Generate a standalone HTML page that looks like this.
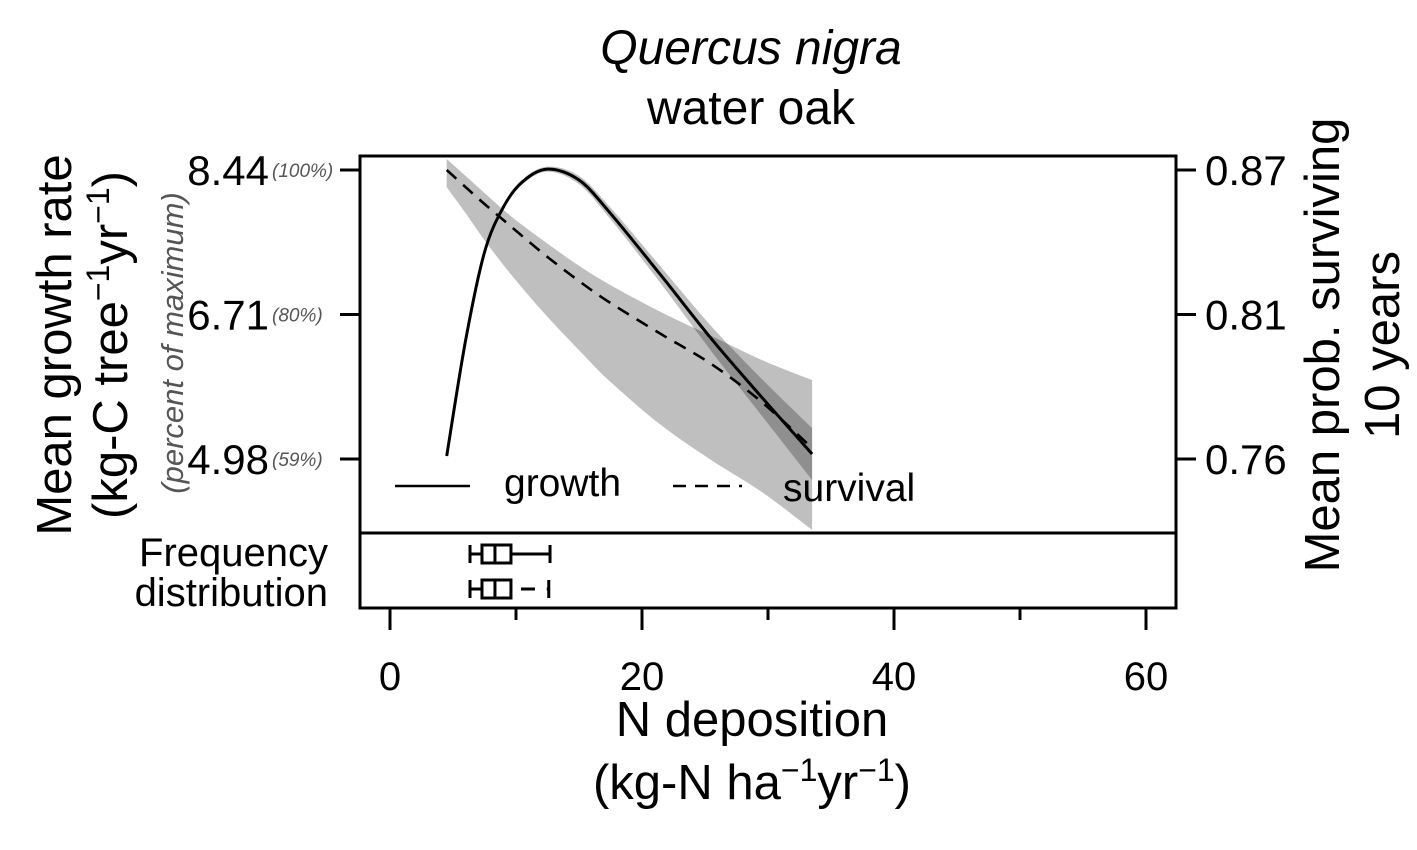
<!DOCTYPE html>
<html><head><meta charset="utf-8"><style>
body{margin:0;background:#fff;}
svg{display:block;font-family:"Liberation Sans",Arial,sans-serif;}
</style></head><body>
<div style="position:relative;width:1417px;height:850px;">
<svg id="chart" width="1417" height="850" viewBox="0 0 1417 850" style="position:absolute;left:0;top:0;">
<g id="bands"></g><g id="lines"></g><g id="axes"></g>
<text x="751" y="64" font-size="48" font-style="italic" text-anchor="middle">Quercus nigra</text>
<text x="751" y="124" font-size="48" text-anchor="middle">water oak</text>
<line x1="395" x2="470" y1="486" y2="486" stroke="#000" stroke-width="2.5"/>
<text x="504" y="496" font-size="39">growth</text>
<line x1="673" x2="742" y1="486" y2="486" stroke="#000" stroke-width="2.5" stroke-dasharray="13 9"/>
<text x="783" y="501" font-size="39">survival</text>
<text x="328" y="566" font-size="40" text-anchor="end">Frequency</text>
<text x="328" y="606" font-size="40" text-anchor="end">distribution</text>
<text x="752" y="736" font-size="49" text-anchor="middle">N deposition</text>
<text x="752" y="799" font-size="49" text-anchor="middle">(kg-N ha<tspan dy="-18" font-size="32">−1</tspan><tspan dy="18">yr</tspan><tspan dy="-18" font-size="32">−1</tspan><tspan dy="18">)</tspan></text>
<g transform="translate(71,345) rotate(-90)"><text x="0" y="0" font-size="49" text-anchor="middle">Mean growth rate</text></g>
<g transform="translate(127,345) rotate(-90)"><text x="0" y="0" font-size="49" text-anchor="middle">(kg-C tree<tspan dy="-18" font-size="32">−1</tspan><tspan dy="18">yr</tspan><tspan dy="-18" font-size="32">−1</tspan><tspan dy="18">)</tspan></text></g>
<g transform="translate(183,343) rotate(-90)"><text x="0" y="0" font-size="31" font-style="italic" fill="#555" text-anchor="middle">(percent of maximum)</text></g>
<g transform="translate(1339,345) rotate(-90)"><text x="0" y="0" font-size="49" text-anchor="middle">Mean prob. surviving</text></g>
<g transform="translate(1399,345) rotate(-90)"><text x="0" y="0" font-size="49" text-anchor="middle">10 years</text></g>
</svg></div>
<script>
const xVals=[4.5,6,7.5,9,10.5,12.5,15,17.5,21.5,25.5,29.5,33.5];
const growth=[5.016,6.40,7.455,7.996,8.296,8.45,8.32,7.92,7.18,6.42,5.72,5.04];
const growthHalf=[0.03,0.03,0.03,0.03,0.03,0.03,0.05,0.07,0.1,0.15,0.22,0.31];
const survival=[0.868,0.8616,0.8553,0.8493,0.8433,0.8355,0.8265,0.8183,0.8067,0.7955,0.7813,0.7641];
const survUpper=[0.8721,0.8658,0.8594,0.8531,0.8474,0.8405,0.8322,0.8250,0.8149,0.8060,0.7970,0.7895];
const survLower=[0.8616,0.8519,0.8418,0.8325,0.8239,0.8131,0.8007,0.7888,0.7727,0.7596,0.7477,0.7335];
const xTicks=[0,20,40,60];
const xMinor=[10,30,50];
const growthTicks=[8.44,6.71,4.98];
const growthTickLabels=["8.44","6.71","4.98"];
const pctLabels=["(100%)","(80%)","(59%)"];
const survTicks=[0.868,0.814,0.76];
const survTickLabels=["0.87","0.81","0.76"];
const box1=[6.35,7.3,8.33,9.6,12.7];
const box2=[6.35,7.3,8.33,9.6,12.6];

const NS="http://www.w3.org/2000/svg";
const X=v=>390+12.6*v;
const YG=v=>170+(8.44-v)*(289/3.46);
const YS=v=>170+(0.868-v)*(289/0.108);
function mk(tag,attrs,parent,text){const e=document.createElementNS(NS,tag);for(const k in attrs)e.setAttribute(k,attrs[k]);if(text!==undefined)e.textContent=text;document.getElementById(parent).appendChild(e);return e;}
function smooth(pts,move){
 let d=(move?"M":"L")+pts[0][0]+","+pts[0][1];
 for(let i=0;i<pts.length-1;i++){
  const p0=pts[Math.max(0,i-1)],p1=pts[i],p2=pts[i+1],p3=pts[Math.min(pts.length-1,i+2)];
  const c1=[p1[0]+(p2[0]-p0[0])/6,p1[1]+(p2[1]-p0[1])/6];
  const c2=[p2[0]-(p3[0]-p1[0])/6,p2[1]-(p3[1]-p1[1])/6];
  d+="C"+c1[0]+","+c1[1]+" "+c2[0]+","+c2[1]+" "+p2[0]+","+p2[1];
 }
 return d;
}
function bandPath(up,lo){
 const u=xVals.map((x,i)=>[X(x),up(i)]);
 const l=xVals.map((x,i)=>[X(x),lo(i)]).reverse();
 return smooth(u,true)+smooth(l,false)+"Z";
}
function linePath(f){return smooth(xVals.map((x,i)=>[X(x),f(i)]),true);}

let e;
e=mk("path",{d:bandPath(i=>YS(survUpper[i]),i=>YS(survLower[i])),fill:"#000","fill-opacity":"0.25"},"bands");

e=mk("path",{d:bandPath(i=>YG(growth[i]+growthHalf[i]),i=>YG(growth[i]-growthHalf[i])),fill:"#000","fill-opacity":"0.25"},"bands");

e=mk("path",{d:linePath(i=>YG(growth[i])),fill:"none",stroke:"#000","stroke-width":"3","stroke-linejoin":"round"},"lines");

e=mk("path",{d:linePath(i=>YS(survival[i])),fill:"none",stroke:"#000","stroke-width":"2.6","stroke-dasharray":"13 9"},"lines");


e=mk("rect",{x:360,y:156,width:816,height:377,fill:"none",stroke:"#000","stroke-width":"3"},"axes");

e=mk("rect",{x:360,y:533,width:816,height:75,fill:"none",stroke:"#000","stroke-width":"3"},"axes");


xTicks.forEach(t=>{
 e=mk("line",{x1:X(t),x2:X(t),y1:608,y2:630,stroke:"#000","stroke-width":"3"},"axes");
 
 e=mk("text",{x:X(t),y:690,"font-size":"40","text-anchor":"middle"},"axes",String(t));
 
});
xMinor.forEach(t=>{
 e=mk("line",{x1:X(t),x2:X(t),y1:608,y2:620,stroke:"#000","stroke-width":"3"},"axes");
 
});
growthTicks.forEach((t,i)=>{
 e=mk("line",{x1:340,x2:360,y1:YG(t),y2:YG(t),stroke:"#000","stroke-width":"3"},"axes");
 
 e=mk("text",{x:269,y:YG(t)+15,"font-size":"42","text-anchor":"end"},"axes",growthTickLabels[i]);
 
 e=mk("text",{x:272,y:YG(t)+7,"font-size":"19","font-style":"italic",fill:"#555"},"axes",pctLabels[i]);
 
});
survTicks.forEach((t,i)=>{
 e=mk("line",{x1:1176,x2:1196,y1:YS(t),y2:YS(t),stroke:"#000","stroke-width":"3"},"axes");
 
 e=mk("text",{x:1205,y:YS(t)+15,"font-size":"42"},"axes",survTickLabels[i]);
 
});
function box(b,cy,dashed,name){
 const g=mk("g",{stroke:"#000","stroke-width":"3",fill:"none"},"axes");
 
 const add=(a)=>{const l=document.createElementNS(NS,"line");for(const k in a)l.setAttribute(k,a[k]);g.appendChild(l);};
 add({x1:X(b[0]),x2:X(b[0]),y1:cy-9,y2:cy+9});
 add({x1:X(b[0]),x2:X(b[1]),y1:cy,y2:cy});
 const r=document.createElementNS(NS,"rect");r.setAttribute("x",X(b[1]));r.setAttribute("y",cy-9);r.setAttribute("width",X(b[3])-X(b[1]));r.setAttribute("height",18);g.appendChild(r);
 add({x1:X(b[2]),x2:X(b[2]),y1:cy-9,y2:cy+9});
 if(dashed){add({x1:X(b[3])+10,x2:X(b[3])+24,y1:cy,y2:cy});add({x1:X(b[4])-2,x2:X(b[4]),y1:cy,y2:cy});}
 else add({x1:X(b[3]),x2:X(b[4]),y1:cy,y2:cy});
 add({x1:X(b[4]),x2:X(b[4]),y1:cy-9,y2:cy+9});
}
box(box1,554,false,'growth-boxplot');
box(box2,589,true,'survival-boxplot');
</script>
</body></html>
